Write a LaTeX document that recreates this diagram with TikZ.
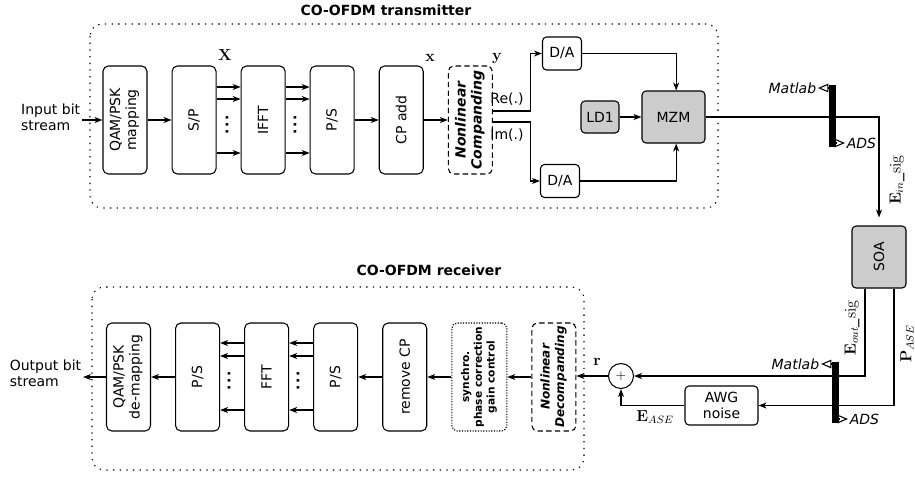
\documentclass[tikz,border=0pt]{standalone}
\usepackage[no-math]{fontspec}
\setmainfont{DejaVu Sans}[Scale=1.05,
  ItalicFont=DejaVu Sans Oblique,
  BoldItalicFont=DejaVu Sans Bold Oblique]
\usetikzlibrary{arrows, arrows.meta, positioning}
\tikzstyle{block} = [rectangle, 
			draw, 
			rounded corners=4pt, 
			text centered, 
			inner sep=0pt,
			minimum width=33pt,
			minimum height=81pt]
\tikzstyle{sblock} = [rectangle, 
			draw, 
			rounded corners=3pt, 
			text centered, 
			align=center,
			inner sep=0pt]
\tikzstyle{gblock} = [sblock, fill=black!20]
\tikzstyle{compand} = [block, dash pattern=on 4pt off 2.5pt]
\tikzstyle{dotbox} = [block, dash pattern=on 0.9pt off 1.1pt]
\tikzstyle{frame} = [draw, dash pattern=on 1pt off 4pt, rounded corners=9pt]
\tikzstyle{line} = [draw, -{Stealth[length=6pt, width=4.5pt, inset=1.8pt]}]
\tikzstyle{tap} = [draw, -open triangle 45]
\tikzstyle{bar} = [rectangle, fill=black, inner sep=0pt, minimum width=5.25pt]
\tikzstyle{tag} = [inner sep=1pt, font=\itshape]
\tikzstyle{title} = [font=\bfseries]
\tikzstyle{sym} = [inner sep=1pt, font=\fontsize{11.5}{13}\selectfont]

\begin{document}
\begin{tikzpicture}[x=0.75pt, y=-0.75pt, node distance = 18pt, thick]
	\useasboundingbox (0,0) rectangle (915,476);
	% transmitter
	\node [title] (txTitle) at (386,10) {CO-OFDM transmitter};
	\draw [frame] (90,24) rectangle (718,208);
	\node [block] (qamMap) at (125,120) {\rotatebox{90}{\begin{tabular}{@{}c@{}}QAM/PSK\\mapping\end{tabular}}};
	\node [anchor=east, align=left, inner sep=1pt] (inText) at (82,117) {Input bit\\stream};
	\path [line] (inText.east |- qamMap.west) -- (qamMap.west);
	\node [block, right=of qamMap] (spConv) {\rotatebox{90}{S/P}};
	\path [line] (qamMap) -- (spConv);
	\node [block, right=of spConv] (ifftBlk) {\rotatebox{90}{IFFT}};
	\node [block, right=of ifftBlk] (psConv) {\rotatebox{90}{P/S}};
	\foreach \s in {24.75pt, 15.75pt, -24.75pt} {
		\path [line] ([yshift=\s]spConv.east) -- ([yshift=\s]ifftBlk.west);
		\path [line] ([yshift=\s]ifftBlk.east) -- ([yshift=\s]psConv.west);
	}
	\node (dotsTxA) at (227,125) {\rotatebox{90}{\bfseries.\kern1.3pt.\kern1.3pt.}};
	\node (dotsTxB) at (295,125) {\rotatebox{90}{\bfseries.\kern1.3pt.\kern1.3pt.}};
	\node [block, right=of psConv] (cpAdd) {\rotatebox{90}{CP add}};
	\path [line] (psConv) -- (cpAdd);
	\node [compand, right=of cpAdd] (compand) {\rotatebox{90}{\bfseries\itshape\begin{tabular}{@{}c@{}}Nonlinear\\Companding\end{tabular}}};
	\path [line] (cpAdd) -- (compand);
	\node [sym] (labX) at (225,55) {$\mathbf{X}$};
	\node [sym] (labx) at (430,58) {$\mathbf{x}$};
	\node [sym] (laby) at (497,58) {$\mathbf{y}$};
	\node [sblock, minimum width=29.25pt, minimum height=24.75pt] (daTop) at (562,53.5) {D/A};
	\node [sblock, minimum width=29.25pt, minimum height=24.75pt] (daBot) at (560,181) {D/A};
	\path [line] ([yshift=6.75pt]compand.east) -- ++(38,0) |- (daTop.west);
	\path [line] ([yshift=-1.5pt]compand.east) -- ++(38,0) |- (daBot.west);
	\node (labRe) at (507,99) {Re(.)};
	\node (labIm) at (507,135) {Im(.)};
	\node [gblock, minimum width=47.25pt, minimum height=39pt] (mzm) at (673.5,117) {MZM};
	\node [gblock, minimum width=28.5pt, minimum height=24pt] (ldOne) at (600,117) {LD1};
	\path [line] (ldOne) -- (mzm);
	\path [line] (daTop.east) -| ([xshift=2pt]mzm.north);
	\path [line] (daBot.east) -| ([xshift=2pt]mzm.south);
	% channel
	\node [gblock, minimum width=40.5pt, minimum height=46.5pt] (soa) at (879,257) {\rotatebox{90}{SOA}};
	\path [line, shorten >=6pt] (mzm.east) -| (soa.north);
	\node [bar, minimum height=46.5pt] (upBar) at (832.5,116) {};
	\node [tag, anchor=east] (txMatlab) at (818,88) {Matlab};
	\node [tag, anchor=west] (txAds) at (845,143) {ADS};
	\path [tap] (upBar.west |- txMatlab) -- (txMatlab.east);
	\path [tap] (upBar.east |- txAds) -- (txAds.west);
	\node [sym, rotate=90] (labEin) at (897,180) {$\mathbf{E}_{in}\_\mathrm{sig}$};
	% receiver
	\node [title] (rxTitle) at (429,270) {CO-OFDM receiver};
	\draw [frame] (92,287) rectangle (584,470);
	\node [block] (qamDemap) at (128.5,377) {\rotatebox{90}{\begin{tabular}{@{}c@{}}QAM/PSK\\de-mapping\end{tabular}}};
	\node [anchor=east, align=left, inner sep=1pt] (outText) at (83,373) {Output bit\\stream};
	\path [line] (qamDemap.west) -- (outText.east |- qamDemap.west);
	\node [block, right=of qamDemap] (psLeft) {\rotatebox{90}{P/S}};
	\path [line] (psLeft) -- (qamDemap);
	\node [block, right=of psLeft] (fftBlk) {\rotatebox{90}{FFT}};
	\node [block, right=of fftBlk] (psRight) {\rotatebox{90}{P/S}};
	\foreach \s in {25.5pt, 15.75pt, -24.75pt} {
		\path [line] ([yshift=\s]fftBlk.west) -- ([yshift=\s]psLeft.east);
		\path [line] ([yshift=\s]psRight.west) -- ([yshift=\s]fftBlk.east);
	}
	\node (dotsRxA) at (229,381) {\rotatebox{90}{\bfseries.\kern1.3pt.\kern1.3pt.}};
	\node (dotsRxB) at (298,381) {\rotatebox{90}{\bfseries.\kern1.3pt.\kern1.3pt.}};
	\node [block, right=of psRight] (removeCp) {\rotatebox{90}{remove CP}};
	\path [line] (removeCp) -- (psRight);
	\node [dotbox, minimum width=41.25pt, right=of removeCp] (synchro) {\rotatebox{90}{\fontsize{7.6}{9.6}\selectfont\bfseries\begin{tabular}{@{}c@{}}synchro.\\phase correction\\gain control\end{tabular}}};
	\path [line] (synchro) -- (removeCp);
	\node [compand, right=of synchro] (decomp) {\rotatebox{90}{\fontsize{8.6}{11}\selectfont\bfseries\itshape\begin{tabular}{@{}c@{}}Nonlinear\\Decompanding\end{tabular}}};
	\path [line] (decomp) -- (synchro);
	\node [circle, draw, inner sep=0pt, minimum size=18.75pt] (sumNode) at (621,376) {$+$};
	\path [line] (sumNode.west) -- (sumNode.west -| decomp.east);
	\node [sym] (labR) at (597,362) {$\mathbf{r}$};
	\node [sblock, minimum width=54.75pt, minimum height=29.25pt] (awgNoise) at (721.5,405.5) {AWG\\noise};
	\path [line] (awgNoise.west) -| (sumNode.south);
	\node [sym] (labEase) at (655,417) {$\mathbf{E}_{ASE}$};
	\path [line] ([xshift=-10.5pt]soa.south) |- (sumNode.east);
	\path [line] ([xshift=11.25pt]soa.south) |- (awgNoise.east);
	\node [bar, minimum height=45.75pt] (lowBar) at (835.5,392.5) {};
	\node [tag, anchor=east] (rxMatlab) at (821,364) {Matlab};
	\node [tag, anchor=west] (rxAds) at (848,419) {ADS};
	\path [tap] (lowBar.west |- rxMatlab) -- (rxMatlab.east);
	\path [tap] (lowBar.east |- rxAds) -- (rxAds.west);
	\node [sym, rotate=90] (labEout) at (852,328) {$\mathbf{E}_{out}\_\mathrm{sig}$};
	\node [sym, rotate=90] (labPase) at (907,344) {$\mathbf{P}_{ASE}$};
\end{tikzpicture}
\end{document}
